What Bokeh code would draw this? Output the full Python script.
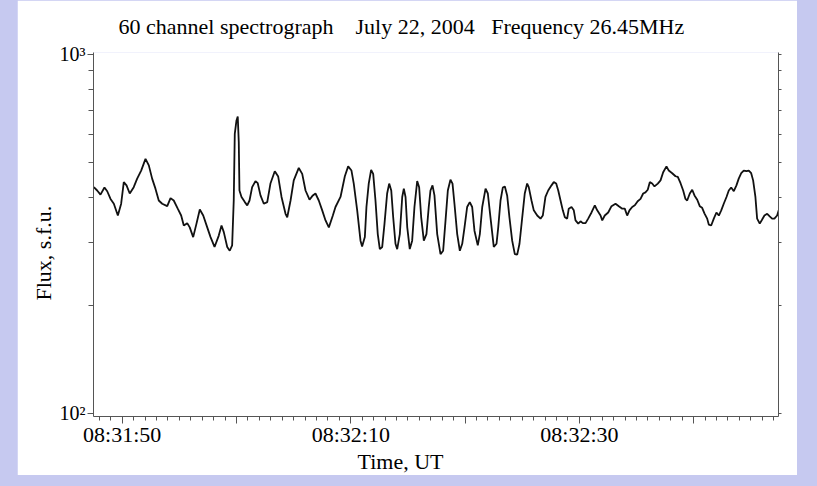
import numpy as np
from bokeh.plotting import figure
from bokeh.models import FixedTicker, LogAxis, Title, Range1d
from bokeh.layouts import column
from bokeh.embed import file_html
from bokeh.resources import INLINE

# seconds after 08:31:00 UT
time_s = [47.52, 47.81, 48.10, 48.45, 48.69, 48.98, 49.27, 49.62, 49.91, 50.14, 50.38, 50.66, 51.01, 51.31, 51.66,
          52.04, 52.33, 52.62, 52.91, 53.20, 53.50, 53.94, 54.23, 54.51, 54.86, 55.16, 55.39, 55.69, 55.91, 56.21,
          56.50, 56.79, 57.09, 57.44, 57.73, 58.08, 58.45, 58.69, 58.89, 59.19, 59.41,
          59.62, 59.76, 59.85, 60.00, 60.11, 60.20, 60.26, 60.44, 60.73, 60.94, 61.14, 61.37, 61.66, 61.86, 62.10,
          62.39, 62.69, 62.97, 63.35, 63.65, 63.94, 64.29, 64.44, 64.73, 65.01, 65.45, 65.75, 66.04, 66.39, 66.68,
          66.91, 67.20, 67.50, 67.79, 68.08, 68.43, 68.66, 69.10, 69.48, 69.77, 70.06, 70.26, 70.56, 70.85, 70.99, 71.23,
          71.37, 71.57, 71.78, 71.96, 72.16, 72.36, 72.54, 72.75, 72.95, 73.18, 73.36, 73.54, 73.71, 73.91, 74.06,
          74.29, 74.50, 74.64, 74.79, 74.94, 75.16, 75.37, 75.57, 75.81, 75.98, 76.16, 76.39, 76.62, 76.82, 76.97,
          77.15, 77.32, 77.56, 77.85, 78.08, 78.29, 78.49, 78.72, 78.90, 79.07, 79.31, 79.54, 79.75, 79.95, 80.18,
          80.41, 80.62, 80.82, 81.11, 81.29, 81.50, 81.79, 81.99, 82.22, 82.51, 82.75,
          82.90, 83.10, 83.30, 83.48, 83.68, 83.88, 84.12, 84.35, 84.56, 84.76, 85.00, 85.22, 85.43, 85.57, 85.81,
          86.01, 86.31, 86.60, 86.80, 87.03, 87.27, 87.56, 87.76, 87.97, 88.15, 88.35, 88.55, 88.73, 88.93, 89.07,
          89.31, 89.51, 89.66, 89.90, 90.10, 90.30, 90.54, 90.77, 91.06, 91.35, 91.56, 91.85, 92.00, 92.22, 92.52,
          92.81, 93.16, 93.45, 93.75, 93.97, 94.18, 94.38, 94.62, 94.85, 95.10,
          95.35, 95.58, 95.78, 95.98, 96.16, 96.37, 96.57, 96.86, 97.10, 97.33, 97.62, 97.82, 98.12, 98.41, 98.61,
          98.85, 99.08, 99.28, 99.43, 99.66, 99.87, 100.07, 100.31, 100.53, 100.74, 100.94, 101.18, 101.32, 101.53,
          101.76, 101.99, 102.20, 102.41, 102.63, 102.87, 103.07, 103.28, 103.51, 103.74, 103.94, 104.16, 104.38,
          104.62, 104.82, 105.03, 105.20, 105.40, 105.55, 105.78, 105.99, 106.19, 106.43, 106.65, 106.86, 107.06,
          107.30, 107.44]

flux_sfu = [427, 418, 407, 426, 416, 396, 384, 356, 384, 441, 432, 410, 427, 451, 475,
            512, 491, 451, 423, 392, 384, 378, 398, 392, 372, 356, 334, 339, 330, 310,
            338, 370, 356, 330, 310, 291, 313, 334, 320, 291, 284,
            294, 392, 601, 655, 672, 570, 418, 401, 388, 380, 392, 427, 444, 438, 405,
            384, 388, 437, 473, 457, 401, 360, 352, 392, 446, 483, 465, 418, 394, 405,
            410, 392, 368, 345, 330, 356, 376, 401, 458, 488, 475, 437, 368, 303, 292, 310,
            376, 437, 477, 465, 392, 316, 287, 291, 338, 410, 437, 418, 352, 297, 287,
            316, 401, 423, 401, 330, 287, 303, 376, 444, 427, 352, 303, 316, 376, 418,
            432, 405, 316, 278, 284, 345, 418, 448, 437, 384, 316, 284, 297, 330, 376,
            388, 376, 323, 294, 316, 376, 423, 410, 352, 291, 297,
            330, 392, 426, 429, 405, 352, 303, 278, 277, 297, 352, 410, 437, 427, 392,
            368, 356, 349, 356, 401, 418, 432, 441, 437, 418, 392, 368, 352, 349, 372,
            376, 368, 345, 338, 343, 339, 339, 349, 363, 380, 368, 356, 345, 356, 363,
            378, 384, 378, 372, 372, 356, 368, 376, 380, 390,
            396, 410, 413, 420, 441, 437, 429, 437, 446, 470, 488, 475, 467, 458, 456,
            438, 418, 396, 392, 410, 420, 405, 394, 378, 374, 361, 349, 336, 334,
            349, 363, 356, 368, 384, 401, 418, 426, 416, 432, 451, 467, 475,
            473, 475, 467, 446, 401, 349, 338, 347, 356, 360, 354, 349, 349,
            356, 368]

x_major_ticks = [50, 60, 70, 80, 90, 100]
x_minor_ticks = list(range(48, 108))
x_tick_labels = {50: "08:31:50", 60: "", 70: "08:32:10", 80: "", 90: "08:32:30", 100: ""}
y_major_ticks = [100, 1000]
y_minor_ticks = [200, 300, 400, 500, 600, 700, 800, 900]
y_tick_labels = {100: "10\u00b2", 1000: "10\u00b3"}
right_tick_labels = {100: "", 1000: ""}

title_parts = ["60 channel spectrograph", "July 22, 2004", "Frequency 26.45MHz"]
x_label = "Time, UT"
y_label = "Flux, s.f.u."

FONT = "Liberation Serif"
AX = "#555555"

p = figure(width=780, height=475, y_axis_type="log",
           x_range=Range1d(47.49, 107.42), y_range=Range1d(98.09, 1012.9),
           output_backend="svg", toolbar_location=None,
           min_border_left=76, min_border_right=19, min_border_top=52, min_border_bottom=59)
p.outline_line_color = None
p.xgrid.visible = False
p.ygrid.visible = False
p.background_fill_color = "white"
p.border_fill_color = "white"

p.line(time_s, flux_sfu, line_color="#111111", line_width=1.8)

xa = p.xaxis[0]
xa.ticker = FixedTicker(ticks=x_major_ticks, minor_ticks=x_minor_ticks)
xa.major_label_overrides = x_tick_labels
xa.major_tick_out = 7
xa.major_tick_in = 0
xa.minor_tick_out = 4
xa.minor_tick_in = 0
xa.major_label_standoff = -2
xa.major_label_text_font = FONT
xa.major_label_text_font_size = "22px"
xa.major_label_text_color = "black"
xa.axis_line_color = AX
xa.major_tick_line_color = AX
xa.minor_tick_line_color = AX

ya = p.yaxis[0]
ya.ticker = FixedTicker(ticks=y_major_ticks, minor_ticks=y_minor_ticks)
ya.major_label_overrides = y_tick_labels
ya.major_tick_out = 6
ya.major_tick_in = 0
ya.minor_tick_out = 5
ya.minor_tick_in = 0
ya.major_label_standoff = 2
ya.major_label_text_font = FONT
ya.major_label_text_font_size = "20px"
ya.major_label_text_color = "black"
ya.axis_line_color = AX
ya.major_tick_line_color = AX
ya.minor_tick_line_color = AX

ra = LogAxis(ticker=FixedTicker(ticks=y_major_ticks, minor_ticks=y_minor_ticks))
ra.major_label_overrides = right_tick_labels
ra.major_tick_out = 3
ra.major_tick_in = 0
ra.minor_tick_out = 3
ra.minor_tick_in = 0
ra.axis_line_color = AX
ra.major_tick_line_color = AX
ra.minor_tick_line_color = AX
p.add_layout(ra, "right")

title_text = (title_parts[0] + " \u00a0\u00a0\u00a0" + title_parts[1] + " \u00a0\u00a0" + title_parts[2])
p.title.text = title_text
p.title.align = "left"
p.title.vertical_align = "top"
p.title.offset = 25
p.title.standoff = 23
p.title.text_font = FONT
p.title.text_font_size = "22px"
p.title.text_font_style = "normal"
p.title.text_color = "black"

xt = Title(text=x_label, align="left", offset=264, standoff=-6, text_font=FONT,
           text_font_size="22px", text_font_style="normal", text_color="black")
p.add_layout(xt, "below")
yt = Title(text=y_label, align="left", offset=116, standoff=2, text_font=FONT,
           text_font_size="22px", text_font_style="normal", text_color="black")
p.add_layout(yt, "left")

layout = column(p, styles={"background-color": "#c6c9f0", "padding": "0px 20px 11px 17px"})

open("out.html", "w").write(file_html(layout, INLINE))
